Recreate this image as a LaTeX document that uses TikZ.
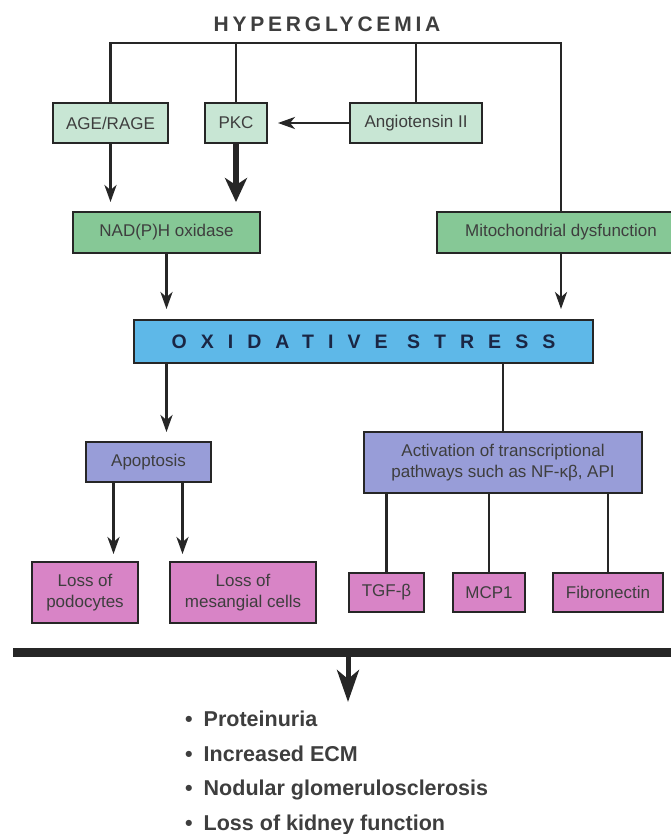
\documentclass[tikz,border=0pt]{standalone}
\usepackage{fontspec}
\setmainfont{Liberation Sans}
\usepackage{tikz}
\usetikzlibrary{arrows.meta}
\definecolor{mintgreen}{RGB}{200, 230, 212}
\definecolor{leafgreen}{RGB}{134, 200, 150}
\definecolor{skyblue}{RGB}{94, 184, 232}
\definecolor{lavender}{RGB}{152, 157, 216}
\definecolor{orchid}{RGB}{216, 132, 198}
\definecolor{inkgray}{RGB}{38, 38, 38}
\definecolor{textgray}{RGB}{62, 62, 62}
\definecolor{navyink}{RGB}{26, 38, 68}

\begin{document}
\begin{tikzpicture}[x=1pt, y=1pt,
    box/.style={draw=inkgray, line width=1.9pt, inner sep=0pt, minimum height=40pt, align=center, text=textgray, font=\fontsize{17}{21.5}\selectfont},
    link/.style={draw=inkgray, line width=2.8pt},
    arr/.style={link, -{Stealth[length=17pt, width=12pt, inset=5pt]}},
    bigarr/.style={draw=inkgray, line width=6pt, -{Stealth[length=24pt, width=22pt, inset=7pt]}}]
    \useasboundingbox (0, 0) rectangle (670, -834);

    \node[text=textgray, font=\bfseries\fontsize{21}{25}\selectfont\addfontfeatures{LetterSpace=18}] (hyper) at (327, -24.5) {HYPERGLYCEMIA};

    \node[box, fill=mintgreen, minimum width=115pt] (age) at (110.5, -123) {AGE/RAGE};
    \node[box, fill=mintgreen, minimum width=62pt] (pkc) at (236, -123) {PKC};
    \node[box, fill=mintgreen, minimum width=132pt] (ang) at (416, -123) {Angiotensin II};

    \node[box, fill=leafgreen, minimum width=187pt, minimum height=41pt] (nadph) at (166.5, -232.5) {NAD(P)H oxidase};
    \node[box, fill=leafgreen, minimum width=248pt, minimum height=41pt] (mito) at (561, -232.5) {Mitochondrial dysfunction};

    \node[box, fill=skyblue, minimum width=459pt, minimum height=43pt, text=navyink, font=\bfseries\fontsize{19.5}{24}\selectfont\addfontfeatures{LetterSpace=72}] (ox) at (363.5, -341.5) {OXIDATIVE STRESS};

    \node[box, fill=lavender, minimum width=125pt] (apop) at (148.5, -462) {Apoptosis};
    \node[box, fill=lavender, minimum width=278pt, minimum height=61pt] (activ) at (503, -462.5) {Activation of transcriptional\\pathways such as NF-κβ, API};

    \node[box, fill=orchid, minimum width=106pt, minimum height=61pt] (podo) at (85, -592.5) {Loss of\\podocytes};
    \node[box, fill=orchid, minimum width=146pt, minimum height=61pt] (mesa) at (243, -592.5) {Loss of\\mesangial cells};
    \node[box, fill=orchid, minimum width=75pt, minimum height=39pt] (tgf) at (386.5, -592.5) {TGF-β};
    \node[box, fill=orchid, minimum width=72pt, minimum height=39pt] (mcp) at (489, -592.5) {MCP1};
    \node[box, fill=orchid, minimum width=110pt, minimum height=39pt] (fibro) at (608, -592.5) {Fibronectin};

    \node[anchor=north west, align=left, inner sep=0pt, text=textgray, font=\bfseries\fontsize{21.5}{34.5}\selectfont] (effects) at (185, -711) {\textbullet\hspace{11pt}Proteinuria\\\textbullet\hspace{11pt}Increased ECM\\\textbullet\hspace{11pt}Nodular glomerulosclerosis\\\textbullet\hspace{11pt}Loss of kidney function};

    \coordinate (top) at (330, -43);
    \coordinate (barl) at (13, -652);
    \coordinate (barr) at (690, -652);
    \coordinate (drop) at (348, -652);

    \draw[link] (age.north) |- (top) -| (mito.north);
    \draw[link] (pkc.north) -- (pkc.north |- top);
    \draw[link] (ang.north) -- (ang.north |- top);
    \draw[arr, shorten >=10pt] (ang.west) -- (pkc.east);

    \draw[arr, shorten >=9pt] (age) -- (age |- nadph.north);
    \draw[bigarr, shorten >=9pt] (pkc) -- (pkc |- nadph.north);
    \draw[arr, shorten >=10pt] (nadph) -- (nadph |- ox.north);
    \draw[arr, shorten >=10pt] (mito) -- (mito |- ox.north);

    \draw[arr, shorten >=9pt] (nadph |- ox.south) -- (nadph |- apop.north);
    \draw[link] (activ |- ox.south) -- (activ);
    \draw[arr, shorten >=7pt] ([xshift=-35pt]apop.south) -- ([xshift=-35pt]apop.south |- podo.north);
    \draw[arr, shorten >=7pt] ([xshift=34pt]apop.south) -- ([xshift=34pt]apop.south |- mesa.north);
    \draw[link] (activ.south -| tgf) -- (tgf);
    \draw[link] (activ.south -| mcp) -- (mcp);
    \draw[link] (activ.south -| fibro) -- (fibro);

    \draw[draw=inkgray, line width=9pt] (barl) -- (barr);
    \draw[draw=inkgray, line width=5pt, -{Stealth[length=32pt, width=22pt, inset=9pt]}, shorten >=9pt] (drop) -- (drop |- effects.north);
\end{tikzpicture}
\end{document}
